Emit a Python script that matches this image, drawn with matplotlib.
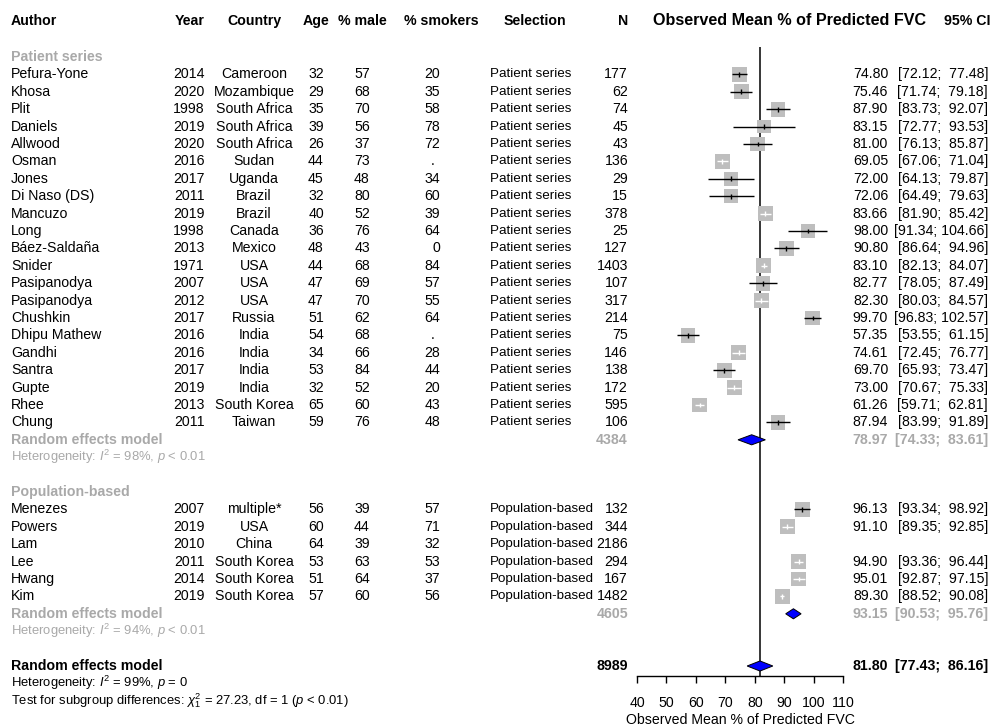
import numpy as np
import matplotlib.pyplot as plt

plt.rcParams['font.family'] = ['Liberation Sans', 'DejaVu Sans']
plt.rcParams['mathtext.fontset'] = 'custom'
plt.rcParams['mathtext.rm'] = 'Liberation Sans'
plt.rcParams['mathtext.it'] = 'Liberation Sans:italic'
plt.rcParams['mathtext.bf'] = 'Liberation Sans:bold'

# ---- data: patient series ----
pat_author = ["Pefura-Yone", "Khosa", "Plit", "Daniels", "Allwood", "Osman", "Jones",
              "Di Naso (DS)", "Mancuzo", "Long", "Báez-Saldaña", "Snider", "Pasipanodya",
              "Pasipanodya", "Chushkin", "Dhipu Mathew", "Gandhi", "Santra", "Gupte",
              "Rhee", "Chung"]
pat_year = [2014, 2020, 1998, 2019, 2020, 2016, 2017, 2011, 2019, 1998, 2013, 1971,
            2007, 2012, 2017, 2016, 2016, 2017, 2019, 2013, 2011]
pat_country = ["Cameroon", "Mozambique", "South Africa", "South Africa", "South Africa",
               "Sudan", "Uganda", "Brazil", "Brazil", "Canada", "Mexico", "USA", "USA",
               "USA", "Russia", "India", "India", "India", "India", "South Korea", "Taiwan"]
pat_age = [32, 29, 35, 39, 26, 44, 45, 32, 40, 36, 48, 44, 47, 47, 51, 54, 34, 53, 32, 65, 59]
pat_male = [57, 68, 70, 56, 37, 73, 48, 80, 52, 76, 43, 68, 69, 70, 62, 68, 66, 84, 52, 60, 76]
pat_smokers = [20, 35, 58, 78, 72, None, 34, 60, 39, 64, 0, 84, 57, 55, 64, None, 28, 44, 20, 43, 48]
pat_n = [177, 62, 74, 45, 43, 136, 29, 15, 378, 25, 127, 1403, 107, 317, 214, 75, 146,
         138, 172, 595, 106]
pat_mean = [74.80, 75.46, 87.90, 83.15, 81.00, 69.05, 72.00, 72.06, 83.66, 98.00, 90.80,
            83.10, 82.77, 82.30, 99.70, 57.35, 74.61, 69.70, 73.00, 61.26, 87.94]
pat_lo = [72.12, 71.74, 83.73, 72.77, 76.13, 67.06, 64.13, 64.49, 81.90, 91.34, 86.64,
          82.13, 78.05, 80.03, 96.83, 53.55, 72.45, 65.93, 70.67, 59.71, 83.99]
pat_hi = [77.48, 79.18, 92.07, 93.53, 85.87, 71.04, 79.87, 79.63, 85.42, 104.66, 94.96,
          84.07, 87.49, 84.57, 102.57, 61.15, 76.77, 73.47, 75.33, 62.81, 91.89]

# ---- data: population-based ----
pop_author = ["Menezes", "Powers", "Lam", "Lee", "Hwang", "Kim"]
pop_year = [2007, 2019, 2010, 2011, 2014, 2019]
pop_country = ["multiple*", "USA", "China", "South Korea", "South Korea", "South Korea"]
pop_age = [56, 60, 64, 53, 51, 57]
pop_male = [39, 44, 39, 63, 64, 60]
pop_smokers = [57, 71, 32, 53, 37, 56]
pop_n = [132, 344, 2186, 294, 167, 1482]
pop_mean = [96.13, 91.10, np.nan, 94.90, 95.01, 89.30]
pop_lo = [93.34, 89.35, np.nan, 93.36, 92.87, 88.52]
pop_hi = [98.92, 92.85, np.nan, 96.44, 97.15, 90.08]

# ---- data: pooled estimates ----
group_names = ["Patient series", "Population-based"]
group_n = [4384, 4605]
group_mean = [78.97, 93.15]
group_lo = [74.33, 90.53]
group_hi = [83.61, 95.76]
group_het = [r"Heterogeneity: $I^2$ = 98%, $p$ < 0.01",
             r"Heterogeneity: $I^2$ = 94%, $p$ < 0.01"]
total_n = 8989
total_mean, total_lo, total_hi = 81.80, 77.43, 86.16
total_het = r"Heterogeneity: $I^2$ = 99%, $p$ = 0"
subgroup_test = r"Test for subgroup differences: $\chi^2_1$ = 27.23, df = 1 ($p$ < 0.01)"

GREY_TXT = '#A9A9A9'
GREY_SQ = '#BEBEBE'
FS = 10.2

fig = plt.figure(figsize=(9.95, 7.27), dpi=100)
ax = fig.add_axes([0, 0, 1, 1])
ax.set_xlim(0, 995)
ax.set_ylim(38.506, -3.276)
ax.axis('off')

fax = fig.add_axes([637 / 995, 0, 206 / 995, 1])
fax.set_xlim(40, 110)
fax.set_ylim(38.506, -3.276)
fax.patch.set_alpha(0)
for s in ['left', 'right', 'top']:
    fax.spines[s].set_visible(False)
fax.spines['bottom'].set_position(('data', 35.57))
fax.spines['bottom'].set_bounds(40, 110)
fax.spines['bottom'].set_linewidth(1.0)
fax.set_yticks([])
fax.set_xticks(range(40, 111, 10))
fax.tick_params(axis='x', length=5, width=1.0, pad=9.5, labelsize=FS)
fax.set_xlabel("Observed Mean % of Predicted FVC", fontsize=FS, labelpad=2)

# header
hy = -2.07
hdr = dict(fontsize=FS, fontweight='bold', va='center')
ax.text(11, hy, "Author", ha='left', **hdr)
ax.text(205, hy, "Year", ha='right', **hdr)
ax.text(254, hy, "Country", ha='center', **hdr)
ax.text(316, hy, "Age", ha='center', **hdr)
ax.text(362, hy, "% male", ha='center', **hdr)
ax.text(441, hy, "% smokers", ha='center', **hdr)
ax.text(535, hy, "Selection", ha='center', **hdr)
ax.text(628, hy, "N", ha='right', **hdr)
ax.text(790, hy, "Observed Mean % of Predicted FVC", ha='center', va='center',
        fontsize=11.6, fontweight='bold')
ax.text(990, hy, "95% CI", ha='right', **hdr)


def ci_text(lo, hi):
    # R-style fixed-width formatting (upper limit padded to 6 chars)
    return f"[{lo:5.2f}; {hi:6.2f}]"


# random-effects weights for square sizes (DerSimonian-Laird, all studies)
all_mean = np.array(pat_mean + pop_mean)
all_se = (np.array(pat_hi + pop_hi) - np.array(pat_lo + pop_lo)) / (2 * 1.96)
ok = ~np.isnan(all_mean)
w = 1 / all_se[ok] ** 2
ybar = np.sum(w * all_mean[ok]) / np.sum(w)
Q = np.sum(w * (all_mean[ok] - ybar) ** 2)
C = np.sum(w) - np.sum(w ** 2) / np.sum(w)
tau2 = max(0, (Q - (ok.sum() - 1)) / C)
wmax = np.max(1 / (all_se[ok] ** 2 + tau2))
px_per_unit = 206 / 70


def study_row(r, a, yr, co, ag, ml, sm, n, m, lo, hi, selection):
    t = dict(fontsize=FS, va='center')
    ax.text(11, r, a, ha='left', **t)
    ax.text(205, r, str(yr), ha='right', **t)
    ax.text(254, r, co, ha='center', **t)
    ax.text(316, r, str(ag), ha='center', **t)
    ax.text(362, r, str(ml), ha='center', **t)
    if sm is None:
        ax.text(433, r, ".", ha='center', **t)
    else:
        ax.text(440, r, str(sm), ha='right', **t)
    ax.text(490, r, selection, ha='left', va='center', fontsize=9.6)
    ax.text(628, r, str(n), ha='right', **t)
    if np.isnan(m):
        return
    ax.text(888, r, f"{m:.2f}", ha='right', **t)
    ax.text(988, r, ci_text(lo, hi), ha='right', **t)
    se = (hi - lo) / (2 * 1.96)
    side = 15 * np.sqrt((1 / (se ** 2 + tau2)) / wmax)
    fax.scatter([m], [r], marker='s', s=(side * 0.72) ** 2, color=GREY_SQ,
                edgecolors='none', zorder=3)
    col = 'white' if (hi - lo) * px_per_unit < side else 'black'
    fax.hlines(r, lo, hi, color=col, lw=1.0, zorder=4)
    fax.vlines(m, r - 0.14, r + 0.14, color=col, lw=1.0, zorder=4)


def diamond(r, m, lo, hi):
    fax.fill([lo, m, hi, m], [r, r - 0.29, r, r + 0.29], facecolor='#0000FF',
             edgecolor='black', lw=0.7, zorder=5)


# reference line at overall estimate
fax.vlines(total_mean, -0.6, 35.57, color='black', lw=1.1, zorder=2)

groups = [
    (pat_author, pat_year, pat_country, pat_age, pat_male, pat_smokers, pat_n,
     pat_mean, pat_lo, pat_hi),
    (pop_author, pop_year, pop_country, pop_age, pop_male, pop_smokers, pop_n,
     pop_mean, pop_lo, pop_hi),
]

r = 0
for g, cols in enumerate(groups):
    ax.text(11, r, group_names[g], ha='left', va='center', fontsize=FS,
            fontweight='bold', color=GREY_TXT)
    r += 1
    for row in zip(*cols):
        study_row(r, *row, group_names[g])
        r += 1
    gb = dict(fontsize=FS, fontweight='bold', color=GREY_TXT, va='center')
    ax.text(11, r, "Random effects model", ha='left', **gb)
    ax.text(628, r, str(group_n[g]), ha='right', **gb)
    ax.text(888, r, f"{group_mean[g]:.2f}", ha='right', **gb)
    ax.text(988, r, ci_text(group_lo[g], group_hi[g]), ha='right', **gb)
    diamond(r, group_mean[g], group_lo[g], group_hi[g])
    r += 1
    ax.text(11, r, group_het[g], ha='left', va='center', fontsize=9.4, color=GREY_TXT)
    r += 2

# overall
tb = dict(fontsize=FS, fontweight='bold', va='center')
ax.text(11, r, "Random effects model", ha='left', **tb)
ax.text(628, r, str(total_n), ha='right', **tb)
ax.text(888, r, f"{total_mean:.2f}", ha='right', **tb)
ax.text(988, r, ci_text(total_lo, total_hi), ha='right', **tb)
diamond(r, total_mean, total_lo, total_hi)
ax.text(11, r + 1, total_het, ha='left', va='center', fontsize=9.4)
ax.text(11, r + 2, subgroup_test, ha='left', va='center', fontsize=9.4)

fig.savefig("out.png", dpi=100)
